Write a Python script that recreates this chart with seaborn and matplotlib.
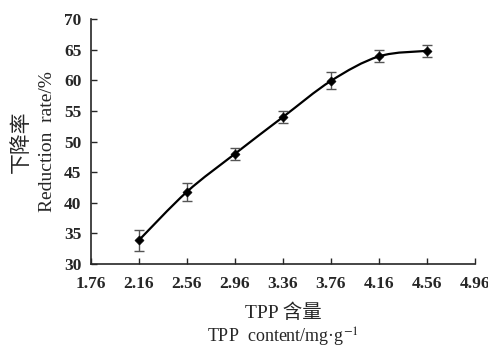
import numpy as np
import matplotlib.pyplot as plt
import seaborn as sns
from matplotlib.path import Path
from matplotlib.patches import PathPatch

# data
tpp = [2.16, 2.56, 2.96, 3.36, 3.76, 4.16, 4.56]
rate = [33.9, 41.8, 48.0, 54.0, 59.9, 63.9, 64.8]
err = [1.7, 1.5, 1.0, 1.0, 1.4, 1.0, 1.0]
xticks = [1.76, 2.16, 2.56, 2.96, 3.36, 3.76, 4.16, 4.56, 4.96]
yticks = [30, 35, 40, 45, 50, 55, 60, 65, 70]

sns.set_style('ticks')
plt.rcParams['font.family'] = ['Liberation Serif', 'Noto Sans CJK SC']
plt.rcParams['mathtext.fontset'] = 'stix'

fig = plt.figure(figsize=(4.89, 3.48), dpi=100)
ax = fig.add_axes([91 / 489, 1 - 264 / 348, 384 / 489, 245 / 348])

# smooth curve (Catmull-Rom -> cubic bezier), as in the Excel-style original
x = np.array(tpp)
y = np.array(rate)
verts = [(x[0], y[0])]
codes = [Path.MOVETO]
for i in range(len(x) - 1):
    p0 = (x[i - 1], y[i - 1]) if i > 0 else (x[i], y[i])
    p1 = (x[i], y[i])
    p2 = (x[i + 1], y[i + 1])
    p3 = (x[i + 2], y[i + 2]) if i + 2 < len(x) else (x[i + 1], y[i + 1])
    c1 = (p1[0] + (p2[0] - p0[0]) / 6, p1[1] + (p2[1] - p0[1]) / 6)
    c2 = (p2[0] - (p3[0] - p1[0]) / 6, p2[1] - (p3[1] - p1[1]) / 6)
    verts += [c1, c2, p2]
    codes += [Path.CURVE4] * 3
ax.add_patch(PathPatch(Path(verts, codes), facecolor='none', edgecolor='black', lw=1.6))

sns.scatterplot(x=tpp, y=rate, marker='D', color='black', s=22, edgecolor='black', ax=ax, zorder=3)
ax.errorbar(tpp, rate, yerr=err, fmt='none', ecolor='#555555', elinewidth=1.0, capsize=3.5, capthick=1.0)

ax.set_xlim(1.76, 4.96)
ax.set_ylim(30, 70)
ax.set_xticks(xticks)
ax.set_yticks(yticks)
ax.set_xticklabels([f'{t:.2f}' for t in xticks])
ax.set_yticklabels([str(t) for t in yticks])
ax.tick_params(axis='both', which='major', direction='in', length=4, width=1, labelsize=12.5)
ax.tick_params(axis='x', pad=9)
ax.tick_params(axis='y', pad=7)
for lbl in ax.get_xticklabels() + ax.get_yticklabels():
    lbl.set_fontweight('bold')
sns.despine(ax=ax)
for s in ['left', 'bottom']:
    ax.spines[s].set_linewidth(1.2)

# axis titles: Chinese line and English line
ax.text(0.5, -0.2, 'TPP 含量', transform=ax.transAxes, ha='center', va='center', fontsize=14)
ax.text(0.5, -0.3, 'TPP  content/mg·g$^{-1}$', transform=ax.transAxes, ha='center', va='center', fontsize=13)
ax.text(-69 / 384, 0.5, '下降率', transform=ax.transAxes, ha='center', va='center',
        rotation=90, fontsize=15)
ax.text(-43 / 384, 0.5, 'Reduction  rate/%', transform=ax.transAxes, ha='center', va='center',
        rotation=90, fontsize=14)

plt.savefig('out.png', dpi=100)
